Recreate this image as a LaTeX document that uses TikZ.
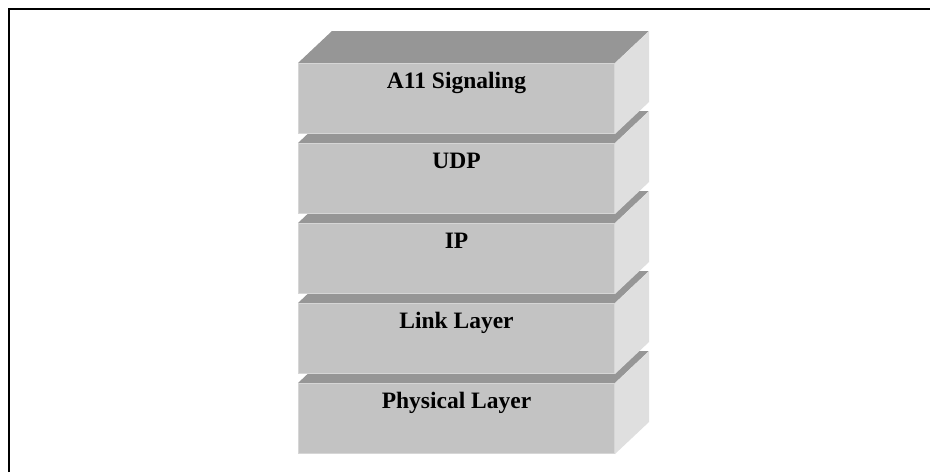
\documentclass[tikz,border=0pt]{standalone}
\usepackage{fontspec}
\setmainfont{Liberation Serif}
\definecolor{frontc}{HTML}{C3C3C3}
\definecolor{topc}{HTML}{969696}
\definecolor{sidec}{HTML}{DFDFDF}
\definecolor{edgec}{HTML}{D6D6D6}
\begin{document}
\begin{tikzpicture}[x=1pt,y=-1pt,
  layertext/.style={font=\fontsize{23.5}{28}\selectfont\bfseries, anchor=base, inner sep=0pt},
  topface/.style={fill=topc},
  sideface/.style={fill=sidec},
  frontface/.style={fill=frontc, draw=edgec, line width=1.2pt}]
\useasboundingbox (0,0) rectangle (930,472);
\draw[line width=2pt] (9,472) -- (9,9) -- (930,9);
\foreach \i/\t/\n in {4/Physical Layer/phy, 3/Link Layer/link, 2/IP/ip, 1/UDP/udp, 0/A11 Signaling/a11} {
  \pgfmathsetmacro\ty{63+80*\i}
  \path[topface] (298,\ty) -- (332,\ty-32) -- (649,\ty-32) -- (615,\ty) -- cycle;
  \path[sideface] (615,\ty) -- (649,\ty-32) -- (649,\ty+39) -- (615,\ty+71) -- cycle;
  \path[frontface] (298.6,\ty+0.6) rectangle (614.4,\ty+70.4);
  \node[layertext] (\n) at (456.5,\ty+25) {\t};
}
\end{tikzpicture}
\end{document}
